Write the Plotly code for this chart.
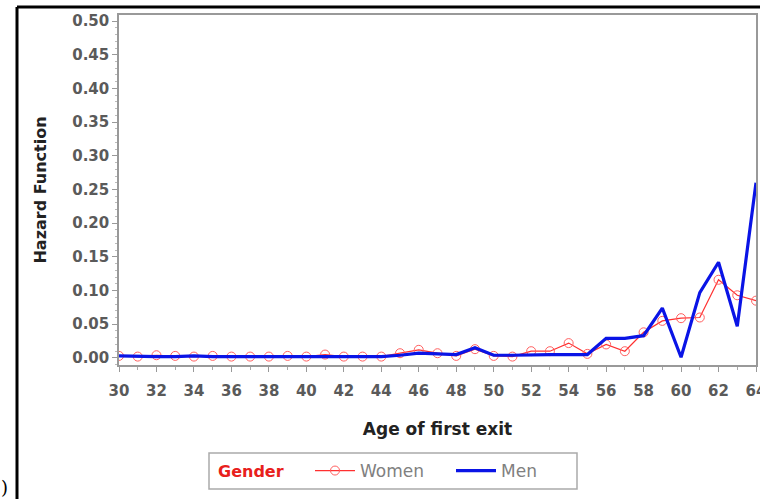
import plotly.graph_objects as go

ages = list(range(30, 65))
men = [0.003, 0.002, 0.002, 0.002, 0.003, 0.002, 0.002, 0.002, 0.003, 0.003,
       0.002, 0.002, 0.002, 0.002, 0.002, 0.004, 0.007, 0.006, 0.005, 0.015,
       0.004, 0.004, 0.005, 0.005, 0.005, 0.005, 0.029, 0.029, 0.033, 0.074,
       0.001, 0.097, 0.142, 0.047, 0.260]
women = [0.003, 0.002, 0.004, 0.003, 0.002, 0.003, 0.002, 0.002, 0.002, 0.003,
         0.002, 0.005, 0.002, 0.002, 0.002, 0.007, 0.012, 0.007, 0.003, 0.013,
         0.003, 0.002, 0.010, 0.010, 0.022, 0.006, 0.020, 0.010, 0.038, 0.055,
         0.059, 0.060, 0.116, 0.093, 0.085]
x_ticks = list(range(30, 65, 2))
y_ticks = [0.00, 0.05, 0.10, 0.15, 0.20, 0.25, 0.30, 0.35, 0.40, 0.45, 0.50]

fig = go.Figure()
fig.add_trace(go.Scatter(
    x=ages, y=women, name="Women", mode="lines+markers",
    line=dict(color="#ff3030", width=1.2),
    marker=dict(symbol="circle-open", size=9, color="#ff6060", line=dict(width=1)),
))
fig.add_trace(go.Scatter(
    x=ages, y=men, name="Men", mode="lines",
    line=dict(color="#0a14e6", width=3.2),
))

L, T, W, H = 119, 15, 637, 350
def px(x):
    return (x - L) / W
def py(y):
    return (T + H - y) / H

FONT = "DejaVu Sans, Verdana, sans-serif"
fig.update_layout(
    width=760, height=499,
    margin=dict(l=L, r=760 - L - W, t=T, b=499 - T - H),
    paper_bgcolor="white", plot_bgcolor="white",
    font=dict(family=FONT, color="#333333", size=13),
    showlegend=True,
    legend=dict(
        orientation="h", x=px(310), xanchor="left", y=py(471), yanchor="middle",
        borderwidth=0, bgcolor="rgba(0,0,0,0)",
        font=dict(color="#808080", size=17, family=FONT),
        entrywidth=86, itemwidth=40,
    ),
    shapes=[
        dict(type="line", xref="paper", yref="paper", x0=px(17), x1=px(762),
             y0=py(7), y1=py(7), line=dict(color="black", width=3)),
        dict(type="line", xref="paper", yref="paper", x0=px(17), x1=px(17),
             y0=py(7), y1=py(500), line=dict(color="black", width=3)),
        dict(type="rect", xref="paper", yref="paper", x0=px(209), x1=px(577),
             y0=py(453), y1=py(489), line=dict(color="#aaaaaa", width=1.5)),
    ],
    annotations=[
        dict(text=")", xref="paper", yref="paper", x=px(10), y=py(487),
             xanchor="right", yanchor="middle", showarrow=False,
             font=dict(family="DejaVu Serif, serif", size=18, color="black")),
        dict(text="<b>Gender</b>", xref="paper", yref="paper", x=px(216), y=py(471),
             xanchor="left", yanchor="middle", showarrow=False,
             font=dict(family=FONT, size=16, color="#e8201c")),
    ],
)
fig.update_xaxes(
    range=[30, 64], tickvals=x_ticks, ticktext=[str(v) for v in x_ticks],
    automargin=False,
    showline=True, linecolor="#999999", linewidth=1.5, mirror=True,
    ticks="outside", ticklen=5, tickcolor="#999999", ticklabelstandoff=6,
    ticklabeloverflow="allow",
    minor=dict(dtick=1, ticks="outside", ticklen=3, tickcolor="#aaaaaa"),
    showgrid=False, zeroline=False,
    title=dict(text="<b>Age of first exit</b>", font=dict(size=17, color="#222222", family=FONT), standoff=24),
    tickfont=dict(size=15, color="#5a5a5a", family=FONT, weight="bold"),
)
fig.update_yaxes(
    range=[-0.0105, 0.509], tickvals=y_ticks, ticktext=[f"{v:.2f}" for v in y_ticks],
    automargin=False,
    showline=True, linecolor="#999999", linewidth=1.5, mirror=True,
    ticks="outside", ticklen=5, tickcolor="#999999",
    minor=dict(dtick=0.01, ticks="outside", ticklen=2, tickcolor="#bbbbbb"),
    showgrid=False, zeroline=False,
    title=dict(text="<b>Hazard Function</b>", font=dict(size=16, color="#222222", family=FONT), standoff=22),
    tickfont=dict(size=15, color="#5a5a5a", family=FONT, weight="bold"),
)

fig.write_html("out.html")
